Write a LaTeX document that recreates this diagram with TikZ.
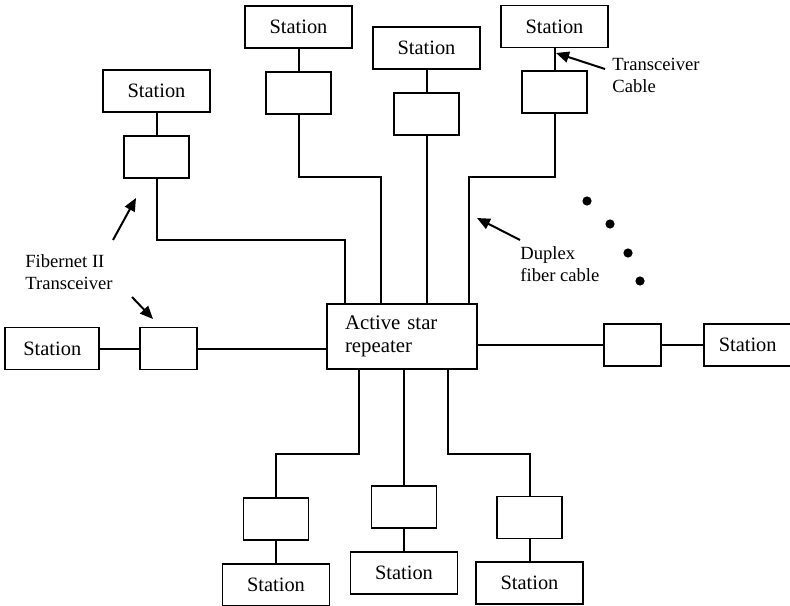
\documentclass[tikz,border=0pt]{standalone}
\usepackage{fontspec}
\setmainfont{Liberation Serif}
\usetikzlibrary{arrows.meta,positioning}

\begin{document}
\begin{tikzpicture}[
    x=0.5pt, y=-0.5pt,
    station/.style={draw, line width=0.85pt, minimum width=#1, minimum height=21pt,
                    inner sep=0pt, font=\fontsize{10.2}{11.5}\selectfont},
    station/.default=53.5pt,
    xcvr/.style={draw, line width=0.85pt, minimum width=#1, minimum height=21pt, inner sep=0pt},
    xcvr/.default=32.5pt,
    cable/.style={line width=1pt},
    note/.style={font=\fontsize{9.3}{11}\selectfont, align=left, inner sep=0pt},
    ptr/.style={-{Triangle[length=6.5pt,width=5.5pt]}, line width=1pt},
    node distance=11pt]

    \useasboundingbox (0,0) rectangle (790,605);

    % ── hub ──────────────────────────────────────────────────
    \node[draw, line width=0.85pt, minimum width=75pt, minimum height=32.5pt,
          text width=57pt, align=left, inner sep=0pt,
          font=\fontsize{10.4}{11.5}\selectfont] (rep) at (402,336.5) {Active star\\repeater};

    % ── upper stations ───────────────────────────────────────
    \node[station] (sA) at (156.5,91) {Station};
    \node[xcvr, below=of sA] (tA) {};
    \node[station] (sB) at (298.5,27) {Station};
    \node[xcvr, below=of sB] (tB) {};
    \node[station] (sC) at (426.5,48) {Station};
    \node[xcvr, below=of sC] (tC) {};
    \node[station] (sD) at (554.5,26.5) {Station};
    \node[xcvr, below=of sD] (tD) {};
    \draw[cable] (sA) -- (tA);
    \draw[cable] (sB) -- (tB);
    \draw[cable] (sC) -- (tC);
    \draw[cable] (sD) -- (tD);

    \coordinate (jA) at (345,240);
    \coordinate (jB) at (381,177);
    \coordinate (jD) at (469,177);
    \draw[cable] (tA.south) |- (jA) -- (jA |- rep.north);
    \draw[cable] (tB.south) |- (jB) -- (jB |- rep.north);
    \draw[cable] (tC.south) -- (tC.south |- rep.north);
    \draw[cable] (tD.south) |- (jD) -- (jD |- rep.north);

    % ── side stations ────────────────────────────────────────
    \node[xcvr=28.5pt] (tL) at (168.5,348.5) {};
    \node[station=47pt, left=19.5pt of tL] (sL) {Station};
    \node[xcvr=28.5pt] (tR) at (632.5,345) {};
    \node[station=44pt, right=20.5pt of tR] (sR) {Station};
    \draw[cable] (sL) -- (tL);
    \draw[cable] (tL) -- (tL -| rep.west);
    \draw[cable] (rep.east |- tR) -- (tR);
    \draw[cable] (tR) -- (sR);

    % ── lower stations ───────────────────────────────────────
    \node[xcvr] (tE) at (276,519) {};
    \node[station, below=of tE] (sE) {Station};
    \node[xcvr] (tF) at (404,507) {};
    \node[station, below=of tF] (sF) {Station};
    \node[xcvr] (tG) at (529.5,517.5) {};
    \node[station, below=of tG] (sG) {Station};
    \draw[cable] (tE) -- (sE);
    \draw[cable] (tF) -- (sF);
    \draw[cable] (tG) -- (sG);

    \coordinate (jE) at (359,454);
    \coordinate (jG) at (448,454);
    \draw[cable] (jE |- rep.south) -- (jE) -| (tE.north);
    \draw[cable] (rep.south -| tF.north) -- (tF.north);
    \draw[cable] (jG |- rep.south) -- (jG) -| (tG.north);

    % ── callouts ─────────────────────────────────────────────
    \node[note, anchor=west] (fib) at (25,272) {Fibernet II\\Transceiver};
    \coordinate (fib1s) at (113,240);
    \coordinate (fib1e) at (136,198);
    \coordinate (fib2s) at (132,297);
    \coordinate (fib2e) at (153,319);
    \draw[ptr] (fib1s) -- (fib1e);
    \draw[ptr] (fib2s) -- (fib2e);

    \node[note, anchor=west] (tcab) at (612,75) {Transceiver\\Cable};
    \coordinate (tcabs) at (605,69);
    \coordinate (tcabe) at (556,53);
    \draw[ptr] (tcabs) -- (tcabe);

    \node[note, anchor=west] (dup) at (520,264) {Duplex\\fiber cable};
    \coordinate (dups) at (520,240);
    \coordinate (dupe) at (477,218);
    \draw[ptr] (dups) -- (dupe);

    % more stations
    \foreach \p in {(587,201),(610,224),(628,253),(640,281)}
        \fill \p circle (2.3pt);

\end{tikzpicture}
\end{document}
